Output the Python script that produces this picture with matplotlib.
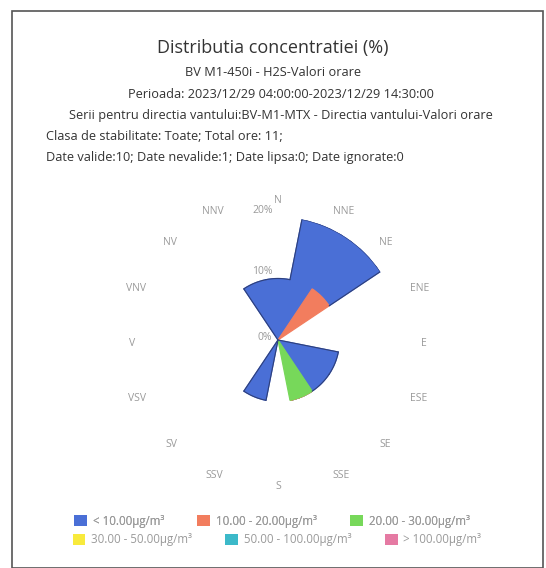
import matplotlib.pyplot as plt
import numpy as np
from matplotlib.patches import Rectangle

plt.rcParams['font.family'] = ['Open Sans', 'DejaVu Sans']

# directii (16 sectoare), in ordinea acelor de ceasornic de la N
directii = ["N", "NNE", "NE", "ENE", "E", "ESE", "SE", "SSE",
            "S", "SSV", "SV", "VSV", "V", "VNV", "NV", "NNV"]

# procente pe clase de concentratie
sub10 = [10, 20, 10, 0, 0, 10, 10, 0, 0, 10, 0, 0, 0, 0, 0, 10]
c10_20 = [0, 0, 10, 0, 0, 0, 0, 0, 0, 0, 0, 0, 0, 0, 0, 0]
c20_30 = [0, 0, 0, 0, 0, 0, 0, 10, 0, 0, 0, 0, 0, 0, 0, 0]
c30_50 = [0] * 16
c50_100 = [0] * 16
peste100 = [0] * 16

serii = [sub10, c10_20, c20_30, c30_50, c50_100, peste100]
etichete = ["< 10.00µg/m³", "10.00 - 20.00µg/m³", "20.00 - 30.00µg/m³",
            "30.00 - 50.00µg/m³", "50.00 - 100.00µg/m³", "> 100.00µg/m³"]
culori = ["#4a6fd6", "#f27d5e", "#77d85a", "#f8ea3c", "#3cb9c9", "#e57aa3"]

W, H = 546, 568
fig = plt.figure(figsize=(W / 100, H / 100), dpi=100)

# chenar
fig.add_artist(Rectangle((12 / W, 0), (543 - 12) / W, (H - 11) / H,
                         transform=fig.transFigure, fill=False,
                         edgecolor="#555555", linewidth=1.2))

txt = "#333333"
fs = 9.2
fig.text(273 / W, 1 - 48 / H, "Distributia concentratiei (%)", ha="center",
         va="center", fontsize=13, color=txt)
fig.text(273 / W, 1 - 73 / H, "BV M1-450i - H2S-Valori orare", ha="center",
         va="center", fontsize=fs, color=txt)
fig.text(281 / W, 1 - 94 / H, "Perioada: 2023/12/29 04:00:00-2023/12/29 14:30:00",
         ha="center", va="center", fontsize=fs, color=txt)
fig.text(281 / W, 1 - 116 / H,
         "Serii pentru directia vantului:BV-M1-MTX - Directia vantului-Valori orare",
         ha="center", va="center", fontsize=fs, color=txt)
fig.text(46 / W, 1 - 136 / H, "Clasa de stabilitate: Toate; Total ore: 11;",
         ha="left", va="center", fontsize=fs, color=txt)
fig.text(46 / W, 1 - 158 / H,
         "Date valide:10; Date nevalide:1; Date lipsa:0; Date ignorate:0",
         ha="left", va="center", fontsize=fs, color=txt)

cx, cy, R = 278, 340, 123
ax = fig.add_axes([(cx - R) / W, (H - cy - R) / H, 2 * R / W, 2 * R / H],
                  projection="polar")
ax.set_theta_zero_location("N")
ax.set_theta_direction(-1)
ax.set_ylim(0, 20)
ax.grid(False)
ax.spines["polar"].set_visible(False)
ax.set_xticks([])
ax.set_yticks([])
ax.patch.set_alpha(0)

n = len(directii)
theta = np.arange(n) * 2 * np.pi / n
latime = 2 * np.pi / n
handles = []
baze = []
for i, (s, c, e) in enumerate(zip(serii, culori, etichete)):
    baza = np.sum(serii[i + 1:], axis=0) if i < len(serii) - 1 else np.zeros(n)
    baze.append(baza)
    ax.bar(theta, s, width=latime, bottom=baza, color=c, edgecolor=c,
           linewidth=0.9, align="center")
    handles.append(Rectangle((0, 0), 1, 1, facecolor=c, edgecolor="none"))

# contur inchis pentru seria < 10
total = np.sum(serii, axis=0)
contur = dict(color="#2e3f7a", linewidth=0.8, solid_capstyle="round")
for i in range(n):
    if sub10[i] <= 0:
        continue
    a0, a1 = theta[i] - latime / 2, theta[i] + latime / 2
    arc = np.linspace(a0, a1, 30)
    ax.plot(arc, np.full_like(arc, total[i]), **contur)
    for a, j in [(a0, (i - 1) % n), (a1, (i + 1) % n)]:
        jos = max(baze[0][i], total[j])
        if total[i] > jos:
            ax.plot([a, a], [jos, total[i]], **contur)

# etichete directii
rl = 143 / R * 20
for t, d in zip(theta, directii):
    sn = np.sin(t)
    ha = "left" if sn > 0.1 else ("right" if sn < -0.1 else "center")
    ax.annotate(d, xy=(t, rl), xytext=(0, -2.5), textcoords="offset points",
                ha=ha, va="center", fontsize=7.5, color="#9a9a9a",
                annotation_clip=False)

# etichete radiale
for r, lab in [(0, "0%"), (10, "10%"), (20, "20%")]:
    ax.annotate(lab, xy=(0, r), xytext=(-4, 1 if r else 2),
                textcoords="offset points", ha="right",
                va="bottom" if r else "center", fontsize=7.5,
                color="#9a9a9a", annotation_clip=False)

kw = dict(ncol=3, loc="center", frameon=False, fontsize=8.3,
          handlelength=1.1, handleheight=1.1, columnspacing=2.9,
          handletextpad=0.5, labelcolor="#9a9a9a")
leg1 = fig.legend(handles[:3], etichete[:3],
                  bbox_to_anchor=(272 / W, 1 - 521 / H), **kw)
fig.add_artist(leg1)
fig.legend(handles[3:], etichete[3:],
           bbox_to_anchor=(277 / W, 1 - 540 / H), **kw)

fig.savefig("out.png", dpi=100)
